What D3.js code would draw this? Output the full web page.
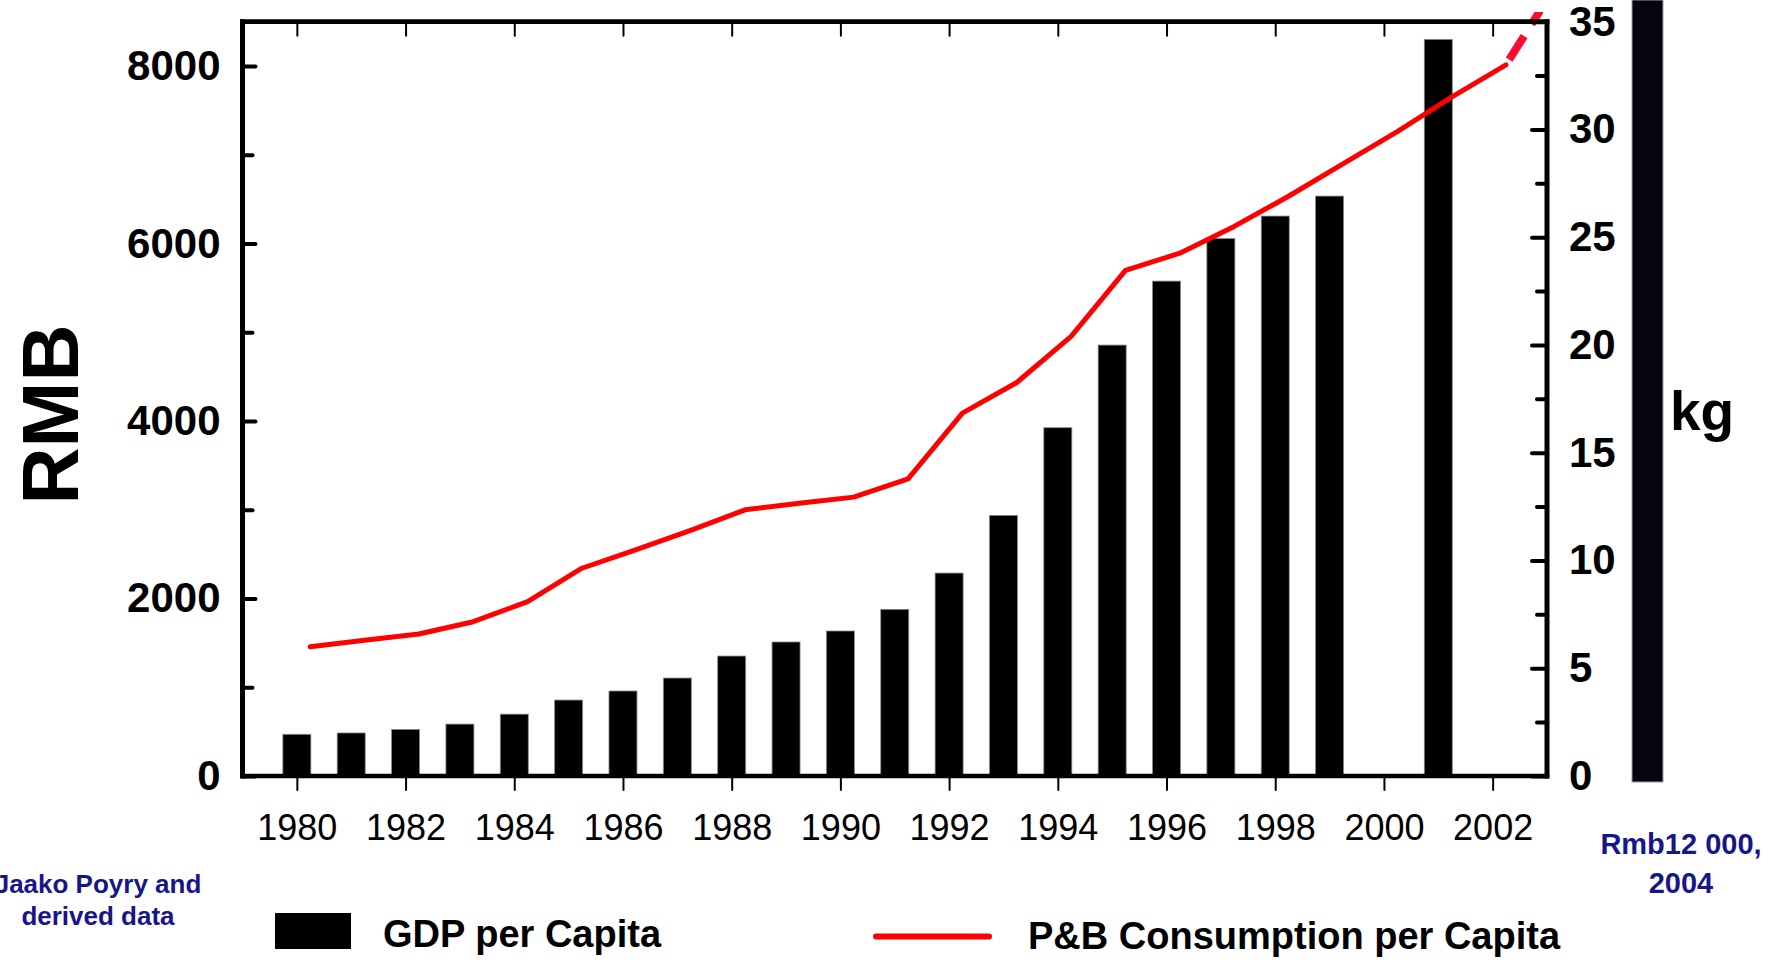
<!DOCTYPE html>
<meta charset="utf-8">
<script src="https://d3js.org/d3.v7.min.js"></script>
<style>
  body { margin: 0; background: #fff; }
  svg text { font-family: "Liberation Sans", Arial, sans-serif; }
</style>
<div id="chart"></div>
<script>

// data
var gdpYears = [1980, 1981, 1982, 1983, 1984, 1985, 1986, 1987, 1988, 1989, 1990,
                1991, 1992, 1993, 1994, 1995, 1996, 1997, 1998, 1999, 2001]
var gdpValues = [470, 485, 525, 585, 697, 856, 958, 1104, 1352, 1510, 1634,
                 1878, 2287, 2937, 3925, 4856, 5577, 6058, 6310, 6535, 8301]

var kgYears = [1980, 1981, 1982, 1983, 1984, 1985, 1986, 1987, 1988, 1989, 1990, 1991,
               1992, 1993, 1994, 1995, 1996, 1997, 1998, 1999, 2000, 2001, 2002]
var kgValues = [6.0, 6.3, 6.59, 7.16, 8.09, 9.64, 10.5, 11.4, 12.35, 12.66, 12.94, 13.79,
                16.84, 18.26, 20.4, 23.46, 24.26, 25.5, 26.9, 28.4, 29.9, 31.5, 33.0]

// dashed projection beyond 2002
var projYears = [2002, 2003]
var projValues = [33.0, 37.0]

var yearTicks = [1980, 1982, 1984, 1986, 1988, 1990, 1992, 1994, 1996, 1998, 2000, 2002]
var rmbTicks = [0, 2000, 4000, 6000, 8000]
var rmbMinor = [1000, 3000, 5000, 7000]
var kgTicks = [0, 5, 10, 15, 20, 25, 30, 35]
var kgMinor = [2.5, 7.5, 12.5, 17.5, 22.5, 27.5, 32.5]

var width = 1782, height = 962
// plot box (window.top is read-only, so no bare "top")
var plotL = 242.5, plotR = 1547, plotT = 21.7, plotB = 776
var lineShift = 0.245   // the line sits a little right of the bar centres

var svg = d3.select("#chart").append("svg")
    .attr("width", width)
    .attr("height", height)

var x = d3.scaleLinear().domain([1979, 2003]).range([plotL, plotR])
var yL = d3.scaleLinear().domain([0, 8500]).range([plotB, plotT])
var yR = d3.scaleLinear().domain([0, 35]).range([plotB, plotT])

// bars
var gdp = gdpYears.map(function(d, i) { return {year: d, value: gdpValues[i]} })
var barW = 28
svg.selectAll(".bar")
  .data(gdp)
  .enter().append("rect")
    .attr("class", "bar")
    .attr("x", function(d) { return x(d.year) - barW / 2 })
    .attr("width", barW)
    .attr("y", function(d) { return yL(d.value) })
    .attr("height", function(d) { return yL(0) - yL(d.value) })
    .attr("fill", "#000")
    .attr("stroke", "#8a8a8a")
    .attr("stroke-width", 0.8)

// consumption line
var kg = kgYears.map(function(d, i) { return {year: d, value: kgValues[i]} })
var line = d3.line()
    .x(function(d) { return x(d.year + lineShift) })
    .y(function(d) { return yR(d.value) })

svg.append("path")
    .datum(kg)
    .attr("d", line)
    .attr("fill", "none")
    .attr("stroke", "#ff0000")
    .attr("stroke-width", 5)
    .attr("stroke-linejoin", "round")
    .attr("stroke-linecap", "round")

svg.append("clipPath").attr("id", "projClip")
  .append("rect")
    .attr("x", 0).attr("y", 12)
    .attr("width", plotR - 4).attr("height", height)

var proj = projYears.map(function(d, i) { return {year: d, value: projValues[i]} })
svg.append("path")
    .datum(proj)
    .attr("d", line)
    .attr("clip-path", "url(#projClip)")
    .attr("fill", "none")
    .attr("stroke", "#ff0a30")
    .attr("stroke-width", 8)
    .attr("stroke-dasharray", "28,14")
    .attr("stroke-dashoffset", 36)

// axes
function styleAxis(g, size, weight, strokeW) {
  g.select(".domain").remove()
  g.selectAll(".tick line").attr("stroke", "#000").attr("stroke-width", strokeW)
    .attr("stroke-linecap", "round")
  g.selectAll("text")
    .attr("fill", "#000")
    .style("font-size", size + "px")
    .style("font-weight", weight)
}

svg.append("g")
    .attr("transform", "translate(" + plotL + ",0)")
    .call(d3.axisLeft(yL).tickValues(rmbTicks).tickSize(-13).tickPadding(22).tickFormat(d3.format("d")))
    .call(styleAxis, 42, "bold", 4)
svg.append("g")
    .attr("transform", "translate(" + plotL + ",0)")
    .call(d3.axisLeft(yL).tickValues(rmbMinor).tickSize(-10).tickFormat(""))
    .call(styleAxis, 42, "bold", 4)

svg.append("g")
    .attr("transform", "translate(" + plotR + ",0)")
    .call(d3.axisRight(yR).tickValues(kgTicks).tickSize(-15).tickPadding(22))
    .call(styleAxis, 42, "bold", 4)
svg.append("g")
    .attr("transform", "translate(" + plotR + ",0)")
    .call(d3.axisRight(yR).tickValues(kgMinor).tickSize(-10).tickFormat(""))
    .call(styleAxis, 42, "bold", 4)

svg.append("g")
    .attr("transform", "translate(0," + plotB + ")")
    .call(d3.axisBottom(x).tickValues(yearTicks).tickSize(14).tickPadding(24).tickFormat(d3.format("d")))
    .call(styleAxis, 36, "normal", 2)
svg.append("g")
    .attr("transform", "translate(0," + plotT + ")")
    .call(d3.axisBottom(x).tickValues(yearTicks).tickSize(14).tickFormat(""))
    .call(styleAxis, 36, "normal", 2)

// frame
var frame = svg.append("g").attr("stroke", "#000").attr("stroke-linecap", "square")
frame.append("line").attr("x1", plotL).attr("x2", plotR).attr("y1", plotT).attr("y2", plotT).attr("stroke-width", 4.7)
frame.append("line").attr("x1", plotL).attr("x2", plotR).attr("y1", plotB).attr("y2", plotB).attr("stroke-width", 4.5)
frame.append("line").attr("x1", plotL).attr("x2", plotL).attr("y1", plotT).attr("y2", plotB).attr("stroke-width", 5)
frame.append("line").attr("x1", plotR).attr("x2", plotR).attr("y1", plotT).attr("y2", plotB).attr("stroke-width", 5)

// axis titles
svg.append("text")
    .attr("transform", "translate(78,414.5) rotate(-90)")
    .attr("text-anchor", "middle")
    .style("font-size", "79px")
    .style("font-weight", "bold")
    .text("RMB")

svg.append("rect")
    .attr("x", 1632).attr("y", 0)
    .attr("width", 31).attr("height", 782)
    .attr("fill", "#05040f")
    .attr("stroke", "#9a9a9a")
    .attr("stroke-width", 1)

svg.append("text")
    .attr("x", 1670).attr("y", 430)
    .style("font-size", "55px")
    .style("font-weight", "bold")
    .text("kg")

// notes
var navy = "#16168a"
var src = svg.append("text")
    .attr("text-anchor", "middle")
    .attr("fill", navy)
    .style("font-size", "26px")
    .style("font-weight", "bold")
src.append("tspan").attr("x", 98).attr("y", 893).text("Jaako Poyry and")
src.append("tspan").attr("x", 98).attr("y", 925).text("derived data")

var note = svg.append("text")
    .attr("text-anchor", "middle")
    .attr("fill", navy)
    .style("font-size", "29px")
    .style("font-weight", "bold")
note.append("tspan").attr("x", 1681).attr("y", 853.5).text("Rmb12 000,")
note.append("tspan").attr("x", 1681).attr("y", 892.5).text("2004")

// legend
svg.append("rect")
    .attr("x", 275).attr("y", 913)
    .attr("width", 76).attr("height", 36)
    .attr("fill", "#000")
svg.append("text")
    .attr("x", 383).attr("y", 946.5)
    .style("font-size", "38px")
    .style("font-weight", "bold")
    .text("GDP per Capita")

svg.append("line")
    .attr("x1", 876).attr("x2", 989)
    .attr("y1", 936.5).attr("y2", 936.5)
    .attr("stroke", "#ff0000")
    .attr("stroke-width", 6)
    .attr("stroke-linecap", "round")
svg.append("text")
    .attr("x", 1028).attr("y", 949)
    .style("font-size", "38px")
    .style("font-weight", "bold")
    .text("P&B Consumption per Capita")

</script>
